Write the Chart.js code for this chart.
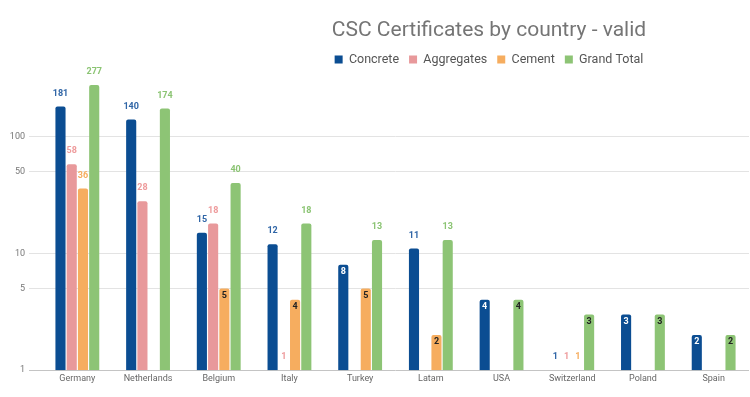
<!DOCTYPE html>
<html>
<head>
<meta charset="utf-8">
<script src="https://cdn.jsdelivr.net/npm/chart.js@4.4.1/dist/chart.umd.min.js"></script>
<style>
  html, body { margin: 0; padding: 0; background: #ffffff; }
  #wrap { width: 750px; height: 397px; position: relative; }
</style>
</head>
<body>
<div id="wrap"><canvas id="c" width="750" height="397"></canvas></div>
<script>
const countries = ["Germany", "Netherlands", "Belgium", "Italy", "Turkey", "Latam", "USA", "Switzerland", "Poland", "Spain"];
const concrete   = [181, 140, 15, 12, 8, 11, 4, 1, 3, 2];
const aggregates = [58, 28, 18, 1, null, null, null, 1, null, null];
const cement     = [36, null, 5, 4, 5, 2, null, 1, null, null];
const grandTotal = [277, 174, 40, 18, 13, 13, 4, 3, 3, 2];
const yTicks = [1, 5, 10, 50, 100];

const barColors   = ["#0b4d92", "#e8999b", "#f6ad5f", "#8dc475"];
const labelColors = ["#2f65a6", "#ee9b9c", "#f6ad5f", "#8bc473"];
const insideColors = ["#ffffff", "#222222", "#222222", "#222222"];

const valueLabels = {
  id: 'valueLabels',
  afterDatasetsDraw(chart) {
    const ctx = chart.ctx;
    ctx.save();
    ctx.font = "bold 9px Roboto, 'Noto Sans', sans-serif";
    ctx.textAlign = 'center';
    ctx.textBaseline = 'middle';
    chart.data.datasets.forEach((ds, di) => {
      const meta = chart.getDatasetMeta(di);
      meta.data.forEach((bar, i) => {
        const v = ds.data[i];
        if (v === null || v === undefined) return;
        const inside = v > 1 && v < 10;
        if (inside) {
          ctx.fillStyle = insideColors[di];
          ctx.fillText(String(v), bar.x, bar.y + 7);
        } else {
          ctx.fillStyle = labelColors[di];
          ctx.fillText(String(v), bar.x, bar.y - 13);
        }
      });
    });
    ctx.restore();
  }
};

const shiftHeader = {
  id: 'shiftHeader',
  afterLayout(chart) {
    const targetCenter = 489;
    [chart.titleBlock, chart.legend].forEach(box => {
      if (!box) return;
      const c = (box.left + box.right) / 2;
      const d = targetCenter - c;
      box.left += d;
      box.right += d;
      if (box.legendHitBoxes) box.legendHitBoxes.forEach(h => { h.left += d; });
    });
  }
};

new Chart(document.getElementById('c'), {
  type: 'bar',
  data: {
    labels: countries,
    datasets: [
      { label: 'Concrete', data: concrete, backgroundColor: barColors[0] },
      { label: 'Aggregates', data: aggregates, backgroundColor: barColors[1] },
      { label: 'Cement', data: cement, backgroundColor: barColors[2] },
      { label: 'Grand Total', data: grandTotal, backgroundColor: barColors[3] }
    ]
  },
  options: {
    responsive: false,
    animation: false,
    devicePixelRatio: 1,
    layout: { padding: { left: 0, right: 1, top: 0, bottom: 10 } },
    datasets: {
      bar: {
        categoryPercentage: 0.636,
        barPercentage: 0.9,
        borderRadius: { topLeft: 2, topRight: 2, bottomLeft: 0, bottomRight: 0 },
        borderSkipped: 'bottom'
      }
    },
    plugins: {
      title: {
        display: true,
        text: 'CSC Certificates by country - valid',
        color: '#757575',
        font: { family: "Roboto, 'Noto Sans', sans-serif", size: 21, weight: 'normal' },
        padding: { top: 18, bottom: 0 }
      },
      legend: {
        display: true,
        position: 'top',
        labels: {
          boxWidth: 8,
          boxHeight: 8,
          padding: 10,
          color: '#555555',
          font: { family: "Roboto, 'Noto Sans', sans-serif", size: 12.5 }
        }
      },
      tooltip: { enabled: false }
    },
    scales: {
      x: {
        grid: { display: false, drawTicks: false },
        border: { display: false },
        ticks: {
          color: '#666666',
          padding: 3,
          maxRotation: 0,
          font: { family: "Roboto, 'Noto Sans', sans-serif", size: 9 }
        }
      },
      y: {
        type: 'logarithmic',
        min: 1,
        max: 332,
        border: { display: false },
        afterBuildTicks(scale) {
          scale.ticks = yTicks.map(v => ({ value: v }));
        },
        afterFit(scale) { scale.width = 42; },
        grid: {
          color: ctx => (ctx.tick && ctx.tick.value === 1) ? '#c4c4c4' : '#e3e3e3',
          tickColor: ctx => (ctx.tick && ctx.tick.value === 1) ? '#c4c4c4' : '#e3e3e3',
          tickLength: 13,
          drawTicks: true
        },
        ticks: {
          color: '#777777',
          padding: 4,
          font: { family: "Roboto, 'Noto Sans', sans-serif", size: 9 },
          callback: v => String(v)
        }
      }
    }
  },
  plugins: [shiftHeader, valueLabels]
});
</script>
</body>
</html>
